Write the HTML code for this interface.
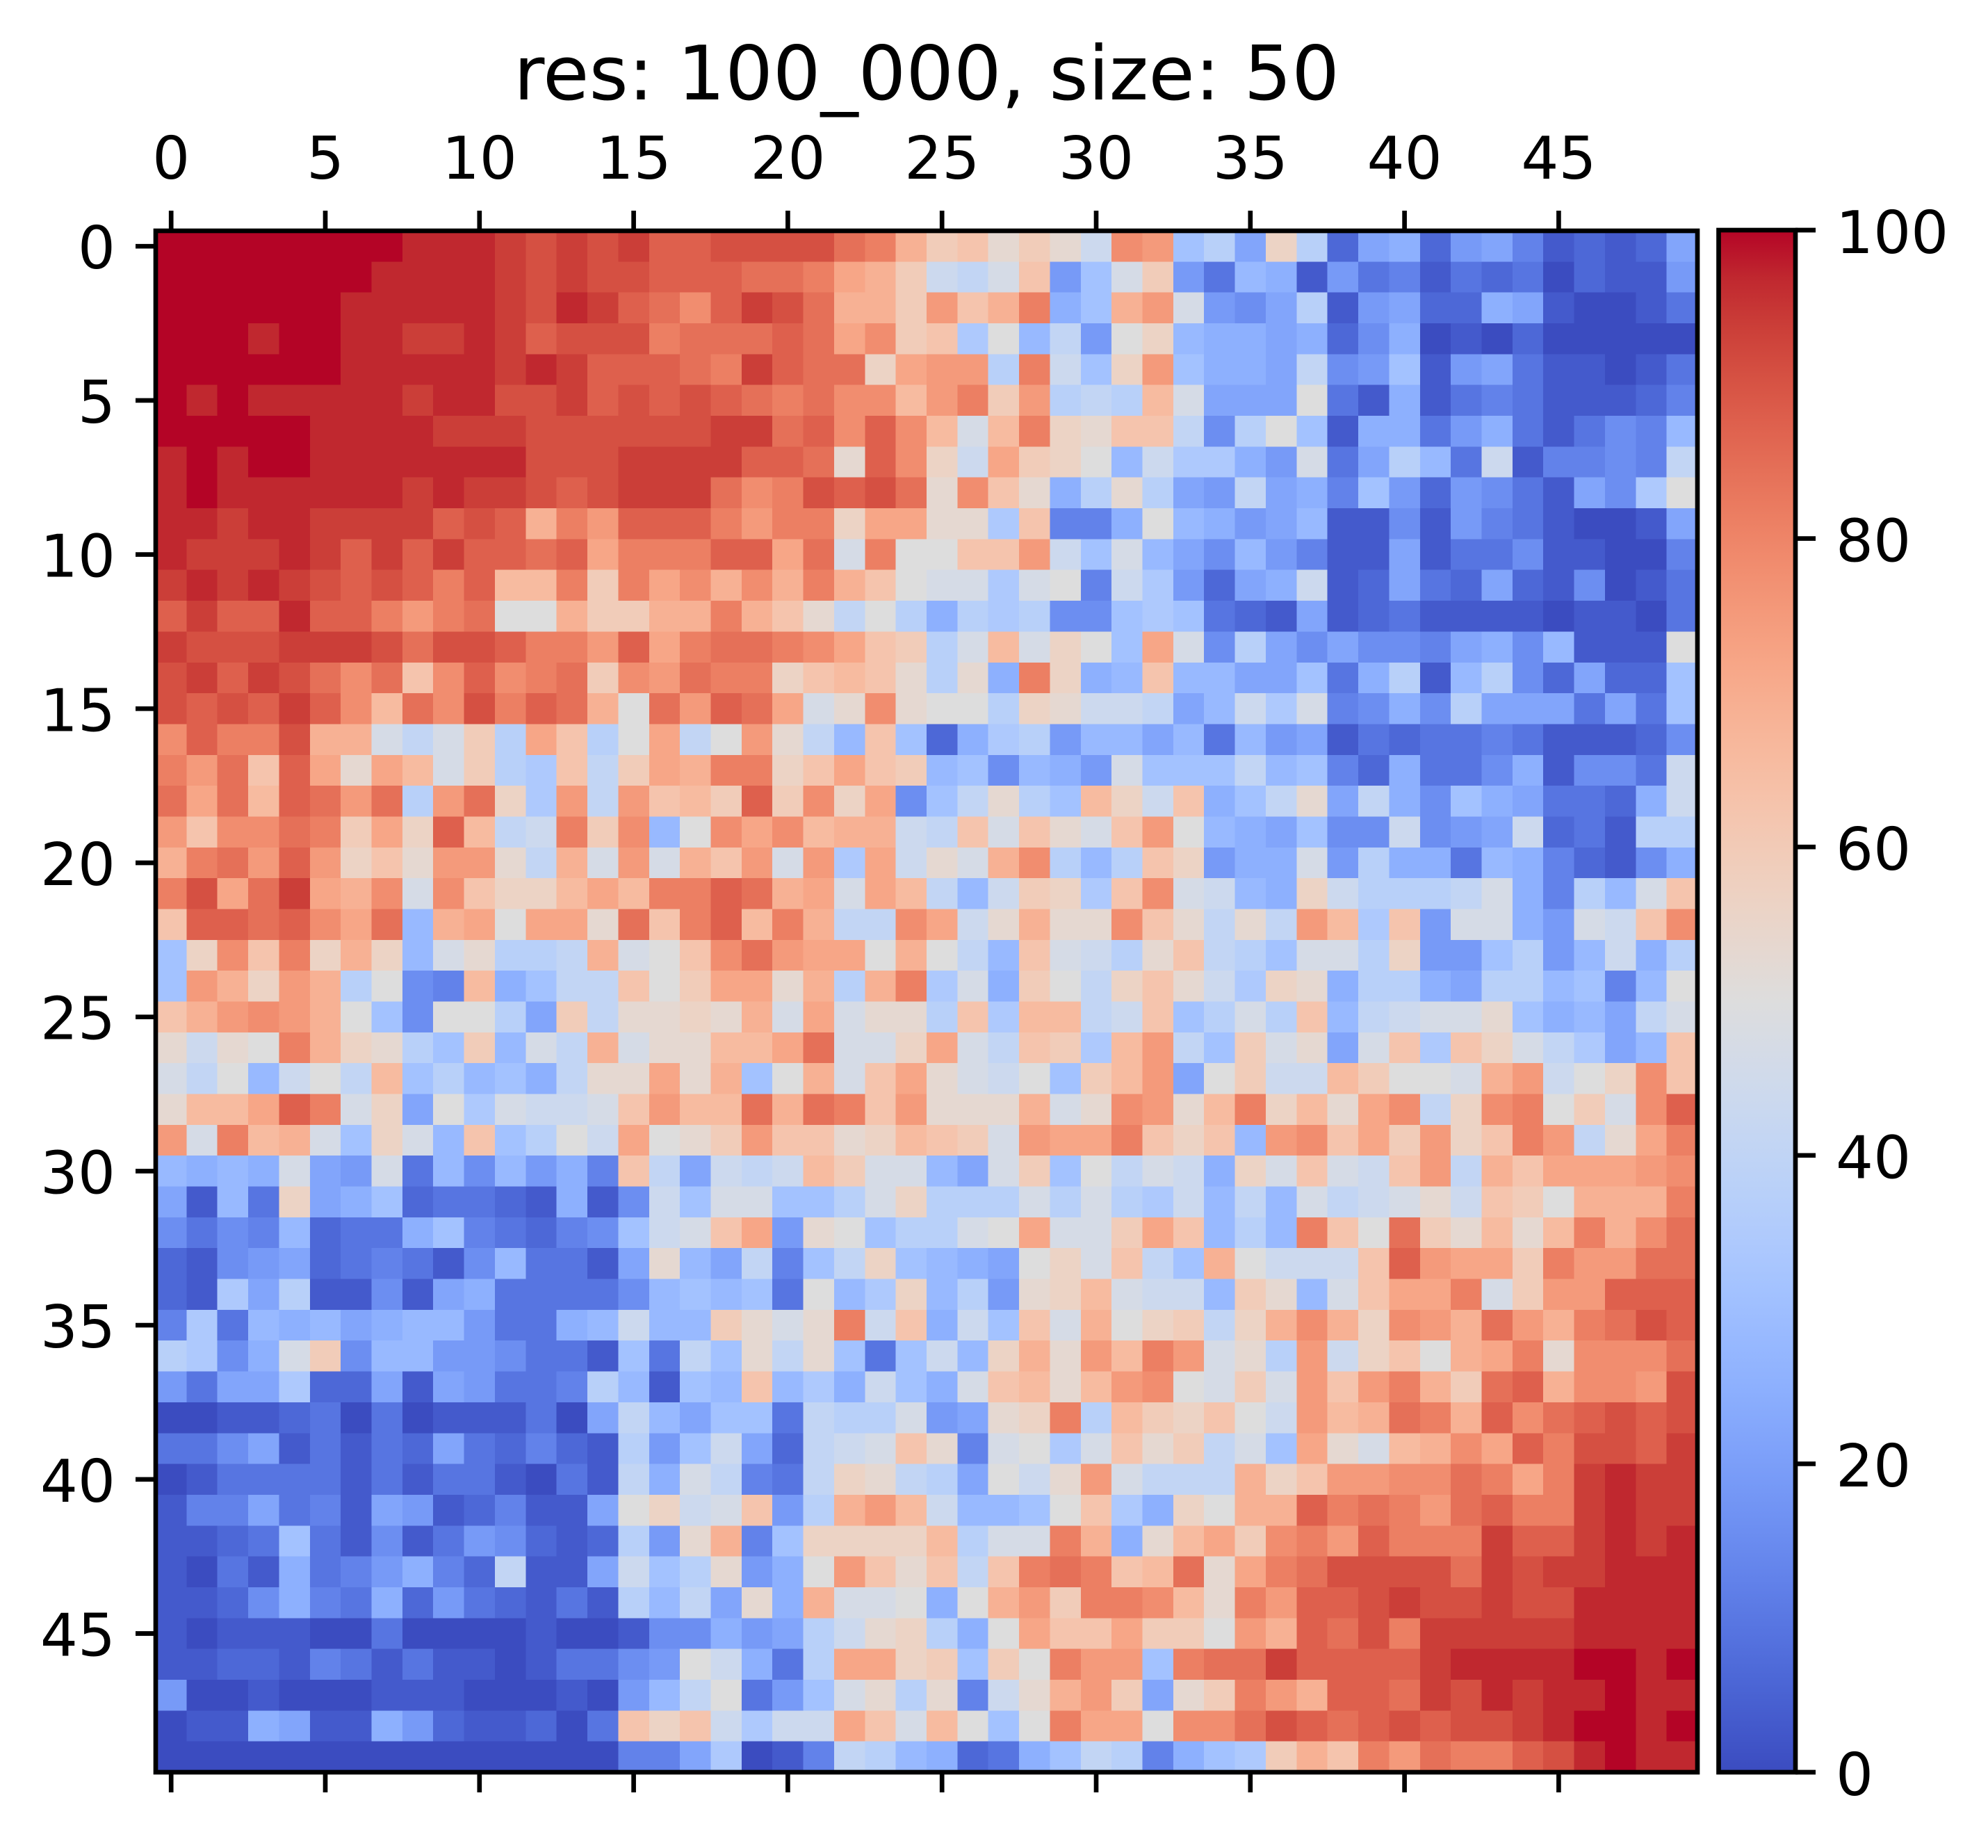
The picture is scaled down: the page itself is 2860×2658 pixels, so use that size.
<!DOCTYPE html>
<html><head><meta charset="utf-8"><style>
html,body{margin:0;padding:0;background:#fff;}
svg{display:block;}
text{font-family:"DejaVu Sans","Liberation Sans",sans-serif;fill:#000;}
</style></head><body>
<svg id="s" xmlns="http://www.w3.org/2000/svg" width="2860" height="2658" viewBox="0 0 2860 2658">
<defs>
<linearGradient id="cw" x1="0" y1="1" x2="0" y2="0">
<stop offset="0" stop-color="#3b4cc0"/><stop offset="0.03125" stop-color="#445acc"/><stop offset="0.0625" stop-color="#4d68d7"/><stop offset="0.09375" stop-color="#5775e1"/><stop offset="0.125" stop-color="#6282ea"/><stop offset="0.15625" stop-color="#6c8ef1"/><stop offset="0.1875" stop-color="#779af7"/><stop offset="0.21875" stop-color="#82a5fb"/><stop offset="0.25" stop-color="#8db0fe"/><stop offset="0.28125" stop-color="#98b9ff"/><stop offset="0.3125" stop-color="#a3c2ff"/><stop offset="0.34375" stop-color="#aec9fd"/><stop offset="0.375" stop-color="#b8d0f9"/><stop offset="0.40625" stop-color="#c2d5f4"/><stop offset="0.4375" stop-color="#ccd9ee"/><stop offset="0.46875" stop-color="#d5dbe6"/><stop offset="0.5" stop-color="#dddddd"/><stop offset="0.53125" stop-color="#e5d8d1"/><stop offset="0.5625" stop-color="#ecd3c5"/><stop offset="0.59375" stop-color="#f1ccb9"/><stop offset="0.625" stop-color="#f5c4ad"/><stop offset="0.65625" stop-color="#f7bba0"/><stop offset="0.6875" stop-color="#f7b194"/><stop offset="0.71875" stop-color="#f7a687"/><stop offset="0.75" stop-color="#f49a7b"/><stop offset="0.78125" stop-color="#f18d6f"/><stop offset="0.8125" stop-color="#ec7f63"/><stop offset="0.84375" stop-color="#e57058"/><stop offset="0.875" stop-color="#de604d"/><stop offset="0.90625" stop-color="#d55042"/><stop offset="0.9375" stop-color="#cb3e38"/><stop offset="0.96875" stop-color="#c0282f"/><stop offset="1" stop-color="#b40426"/>
</linearGradient>
</defs>
<text x="1333" y="143" font-size="108" text-anchor="middle">res: 100_000, size: 50</text>
<g id="hm" shape-rendering="crispEdges"></g>
<rect x="224" y="332" width="2218" height="2217" fill="none" stroke="#000" stroke-width="6.67"/>
<g stroke="#000" stroke-width="6.67">
<line x1="246.2" y1="332" x2="246.2" y2="303"/><line x1="468" y1="332" x2="468" y2="303"/><line x1="689.8" y1="332" x2="689.8" y2="303"/><line x1="911.6" y1="332" x2="911.6" y2="303"/><line x1="1133.4" y1="332" x2="1133.4" y2="303"/><line x1="1355.2" y1="332" x2="1355.2" y2="303"/><line x1="1577" y1="332" x2="1577" y2="303"/><line x1="1798.8" y1="332" x2="1798.8" y2="303"/><line x1="2020.6" y1="332" x2="2020.6" y2="303"/><line x1="2242.4" y1="332" x2="2242.4" y2="303"/>
<line x1="246.2" y1="2549" x2="246.2" y2="2578"/><line x1="468" y1="2549" x2="468" y2="2578"/><line x1="689.8" y1="2549" x2="689.8" y2="2578"/><line x1="911.6" y1="2549" x2="911.6" y2="2578"/><line x1="1133.4" y1="2549" x2="1133.4" y2="2578"/><line x1="1355.2" y1="2549" x2="1355.2" y2="2578"/><line x1="1577" y1="2549" x2="1577" y2="2578"/><line x1="1798.8" y1="2549" x2="1798.8" y2="2578"/><line x1="2020.6" y1="2549" x2="2020.6" y2="2578"/><line x1="2242.4" y1="2549" x2="2242.4" y2="2578"/>
<line x1="224" y1="354.2" x2="195" y2="354.2"/><line x1="224" y1="575.9" x2="195" y2="575.9"/><line x1="224" y1="797.6" x2="195" y2="797.6"/><line x1="224" y1="1019.3" x2="195" y2="1019.3"/><line x1="224" y1="1241" x2="195" y2="1241"/><line x1="224" y1="1462.7" x2="195" y2="1462.7"/><line x1="224" y1="1684.4" x2="195" y2="1684.4"/><line x1="224" y1="1906.1" x2="195" y2="1906.1"/><line x1="224" y1="2127.8" x2="195" y2="2127.8"/><line x1="224" y1="2349.5" x2="195" y2="2349.5"/>
<line x1="2583" y1="2549" x2="2612" y2="2549"/><line x1="2583" y1="2105.4" x2="2612" y2="2105.4"/><line x1="2583" y1="1661.8" x2="2612" y2="1661.8"/><line x1="2583" y1="1218.2" x2="2612" y2="1218.2"/><line x1="2583" y1="774.6" x2="2612" y2="774.6"/><line x1="2583" y1="331" x2="2612" y2="331"/>
</g>
<g font-size="85" text-anchor="middle">
<text x="246.2" y="257">0</text><text x="468" y="257">5</text><text x="689.8" y="257">10</text><text x="911.6" y="257">15</text><text x="1133.4" y="257">20</text><text x="1355.2" y="257">25</text><text x="1577" y="257">30</text><text x="1798.8" y="257">35</text><text x="2020.6" y="257">40</text><text x="2242.4" y="257">45</text>
</g>
<g font-size="85" text-anchor="end">
<text x="166" y="386">0</text><text x="166" y="608">5</text><text x="166" y="829.6">10</text><text x="166" y="1051.3">15</text><text x="166" y="1273">20</text><text x="166" y="1494.7">25</text><text x="166" y="1716.4">30</text><text x="166" y="1938.1">35</text><text x="166" y="2159.8">40</text><text x="166" y="2381.5">45</text>
</g>
<rect x="2472.5" y="331" width="110.5" height="2218" fill="url(#cw)"/>
<rect x="2472.5" y="331" width="110.5" height="2218" fill="none" stroke="#000" stroke-width="6.67"/>
<g font-size="85" text-anchor="start">
<text x="2641" y="2582">0</text><text x="2641" y="2138">20</text><text x="2641" y="1694.5">40</text><text x="2641" y="1251">60</text><text x="2641" y="807.5">80</text><text x="2641" y="364">100</text>
</g>
</svg>
<script>
var C=["3b4cc0","445acc","4d68d7","5775e1","6282ea","6c8ef1","779af7","82a5fb","8db0fe","98b9ff","a3c2ff","aec9fd","b8d0f9","c2d5f4","ccd9ee","d5dbe6","dddddd","e5d8d1","ecd3c5","f1ccb9","f5c4ad","f7bba0","f7b194","f7a687","f49a7b","f18d6f","ec7f63","e57058","de604d","d55042","cb3e38","c0282f","b40426"];
var K="0123456789ABCDEFGHIJKLMNOPQRSTUVW";
var R=[
"WWWWWWWWVVVUTUTUSSTTTTRQMJKHJHEPOAC7IC278267412127",
"WWWWWWWVVVVUTUTTSSSRRQNMJEDFK6AFJ63981634132302116",
"WWWWWWVVVVVUTVUSRPSUTRMMJOKMQ8AMOF657C167228710013",
"WWWVWWVVUUVUSTTTQRRRSRNPJKBG9D6GI98878258010200000",
"WWWWWWVVVVVUVUSSSRQUSRRINOOCQEAIOA887D56A167311013",
"WVWVVVVVUVVTTUSTSTSRQRPPLOQJOCDCLF777G318134311124",
"WWWWWVVVVUUUTTTTTTUURSPSPLFLQIHKKD5CGA188368313549",
"VWVWWVVVVVVVTTTUUUUSSRHSPIENJIG9EBB86F37C93E14454D",
"VWVVVVVVUVUUTSTUUURPQTSTRHPKH8CHC76D784A62653175BG",
"VVUVVUUUUSTSMQOSSSQOQQINNHHBK448G98679115164310017",
"VUUUVUSUSUSSRSNQQQSSNRFQGGKKOEAF975964117133511004",
"UVUVUTSTSQSLLQJQNPMPMQMKGFFBFG4EB6278E127327215013",
"SUSSVSSQOQRGGMJJMMQMKHDGC8CBC55ABA3217123111101103",
"UTTTUUUTRTTSQQOSNQRRQPNKJCFLFIGANF5C7575547859111G",
"TUSUTRPRKPSPQRJPORQQIKLKHCH8QI89K9977A38C19C52722A",
"TSTSUSPLRPTQSRMGROSRNFHPHGGCIHEED79EBF4585C777373A",
"PSQQTMMFDFJCNKCGNDGOHD9KA28BC699793967132334311125",
"QORKSNHNLFJCBKDJNMQQIKNKJ9A5986FAAAD9A42833581553E",
"RNRLSRORCORIBODOKLJSJPIN5ADHCALIEK8ADH7D85A873328E",
"OKPPRQJNISLDEQJP9GPNPLMMEDKFKHFKOG987A55E567E231CC",
"MQROSOIKHOOHDMFOFMKOFOBNEHFMPC9CKI688F6C8839842158",
"QTNRUNMPFPKIILNLQQSRMNFNLD9EJIBKPFE98IECCCDF84C9FK",
"KSSRSPNR9MNGNNHRKQSLQMDDPNEHMHHPKHDHDOLBK6FF86FEKP",
"AIPKQIMI9FHCCDMFGKPRONNGMGD9KFECHKDCAFFCI66AC69E8C",
"AOMIOMCG54L8ADDKGJNNHMCMQBF8JGDIKHEBIH8CC87CC9A49G",
"KMOPOMGA5GGC7JDHHIHMFNFHHCKBLLDEKACFCK9DEFFHA897DF",
"HEHGQMIHCAJ9FDMFHHLLNRFFINFDKJBLODAJFH7FKBKIFDB79K",
"FDG9EGDLAC9A8DHHNHMAGMFKNHFEGAJLO7GJEELJGGFMOEGIPK",
"HLLNSQFI7GBFEEFKOLLRMRQKOHHHMFHPOHLQILHNPDIPQGJFPS",
"OFQLMFAIF9KACGENGHJOKKHILKJFONNQKIK9OPKNJOIKQODHNQ",
"9898F76F3959684KD7EDELJFF97FJAGDFE8IFKFEKODMKNNNOP",
"7193I78A23321815EAFFAACFICCCFCFCBE9D9FDEFHEKJGMMMQ",
"535492338A43245AEFKN6HGACCFGNFFJNK9C9QKGRJHLHLQMPR",
"2156723431593317H97D4ADIA987GIFKDAMGEEEKSONNJQOORR",
"21B7C115178333359A9A3G9BI9C6HILFEE9JH9FKNNQFJOOSSS",
"4B3989789963389E99JHFHQEK8EAKFMGIJDIMPMIPOMROMQRTS",
"CB58FJ599665331A3DAHDHA3AE9IMHOLQOFHCOEIKGMNQHPPPR",
"6377B227176334C91A9K9B8EA8FKLHLOPGFJFOKOQMJRSMPPOT",
"001123030111307D97AA3DCCF67HIQCLJIKGEOLMRQMSPRSTST",
"335713132732421C6AE72DEFKH4FGBFKHJDFANHFLMPNSQTTSU",
"013333131331031D8FD43DIHDC7GEHOFDDDMIKOOPPRQNQUVUU",
"144734176124117GIEFK6CMOLE99AGKB8IGMMSQRQORSQQUVUU",
"1123A3151365212C6HM4AIIIILCFFQM8HLNJPQOSQQQUSSUVUV",
"10318346842D117EACH68GOKHKDKQRQKLRHNQRTTTTRUTUUVVV",
"112584382632131C9D7H8MFFG8GMOJQQPLHQOSSTUTTUTTVVVV",
"101110030000100155867CEHIC8GNKKNJJGOMSRTQUUUUUVVVV",
"11221431311013356GE83CNNIJAJGQOOAQRRUSSSSUVVVVWWVW",
"60010001110001069DG36AFHCH4EHMOJ7HJQOMSSRUTVUVVWVV",
"011871186211203KIKEBEENKFLGAGQNNGPPRTSRSTSTTUVWWVW",
"000000000000000447B014DC98238ADC48ABJMKQORQQSTVWVV"
];
var g=document.getElementById("hm"),ns="http://www.w3.org/2000/svg";
var x0=224,y0=332,cw=2218/50,ch=2217/50,h="";
for(var r=0;r<50;r++){var s=R[r];for(var c=0;c<50;c++){var k=K.indexOf(s.charAt(c));if(k<0)k=16;
var x=x0+c*cw,y=y0+r*ch;
h+='<rect x="'+x.toFixed(2)+'" y="'+y.toFixed(2)+'" width="'+(cw+0.8).toFixed(2)+'" height="'+(ch+0.8).toFixed(2)+'" fill="#'+C[k]+'"/>';}}
g.innerHTML=h;
</script>
</body></html>
